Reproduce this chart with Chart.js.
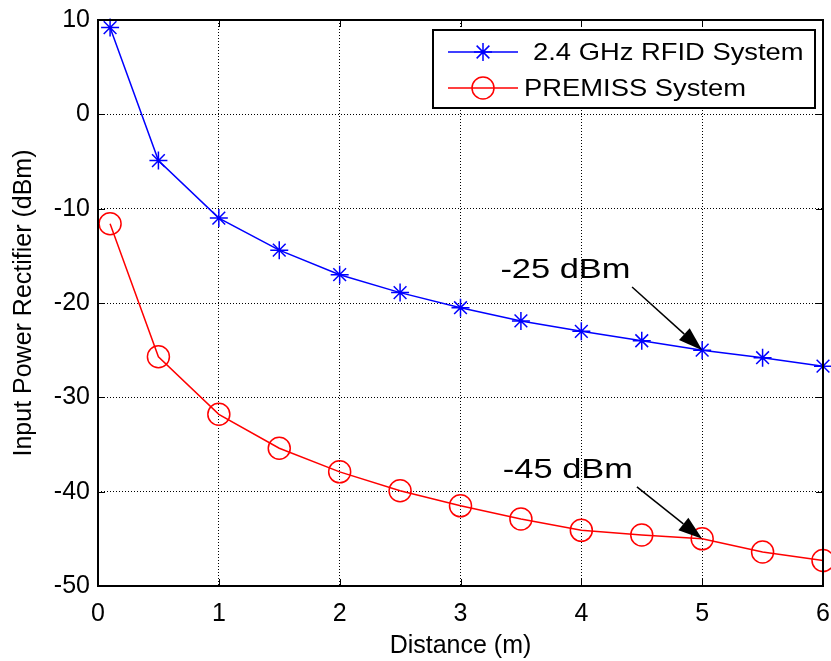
<!DOCTYPE html>
<html>
<head>
<meta charset="utf-8">
<script src="https://cdn.jsdelivr.net/npm/chart.js@4.4.1/dist/chart.umd.min.js"></script>
<style>
  html, body { margin: 0; padding: 0; background: #fff; }
  #wrap { width: 831px; height: 661px; }
</style>
</head>
<body>
<div id="wrap"><canvas id="powerChart" width="831" height="661"></canvas></div>
<script>
// distance in metres
const distance = [0.1, 0.5, 1, 1.5, 2, 2.5, 3, 3.5, 4, 4.5, 5, 5.5, 6];
// input power at the rectifier (dBm)
const rfidPower = [9.2, -4.9, -11.0, -14.4, -17.0, -18.9, -20.5, -21.9, -23.0, -24.0, -25.0, -25.8, -26.7];
const premissPower = [-11.6, -25.7, -31.8, -35.4, -37.9, -39.9, -41.5, -42.9, -44.1, -44.6, -45.0, -46.4, -47.3];
const seriesNames = ["2.4 GHz RFID System", "PREMISS System"];
const xTicks = [0, 1, 2, 3, 4, 5, 6];
const yTicks = [10, 0, -10, -20, -30, -40, -50];

const FONT = "'Liberation Sans', Arial, sans-serif";

function toPoints(ys) {
  return distance.map((x, i) => ({ x: x, y: ys[i] }));
}

// text drawn a little wider than the font, like the exported figure
function wideText(ctx, text, x, y, sx) {
  ctx.save();
  ctx.translate(x, y);
  ctx.scale(sx, 1);
  ctx.fillText(text, 0, 0);
  ctx.restore();
}

// box round the plot, inward ticks, legend and the two arrow notes
const decorations = {
  id: "decorations",
  afterDatasetsDraw(chart) {
    const { ctx, chartArea: a, scales } = chart;
    const xs = scales.x, ys = scales.y;
    ctx.save();

    // inward tick marks
    ctx.strokeStyle = "#000";
    ctx.lineWidth = 1;
    ctx.setLineDash([]);
    xTicks.forEach(v => {
      const px = Math.round(xs.getPixelForValue(v)) + 0.5;
      ctx.beginPath();
      ctx.moveTo(px, a.bottom); ctx.lineTo(px, a.bottom - 7);
      ctx.moveTo(px, a.top); ctx.lineTo(px, a.top + 7);
      ctx.stroke();
    });
    yTicks.forEach(v => {
      const py = Math.round(ys.getPixelForValue(v)) + 0.5;
      ctx.beginPath();
      ctx.moveTo(a.left, py); ctx.lineTo(a.left + 7, py);
      ctx.moveTo(a.right, py); ctx.lineTo(a.right - 7, py);
      ctx.stroke();
    });

    // axes box
    ctx.lineWidth = 2;
    ctx.strokeRect(a.left, a.top, a.right - a.left, a.bottom - a.top);

    // annotations with arrows
    const notes = [
      { text: "-25 dBm", tx: 3.33, ty: -17.4, fx: 4.42, fy: -18.3, x: 5, y: rfidPower[10] },
      { text: "-45 dBm", tx: 3.35, ty: -38.6, fx: 4.46, fy: -39.5, x: 5, y: premissPower[10] }
    ];
    ctx.fillStyle = "#000";
    ctx.font = "28px " + FONT;
    ctx.textBaseline = "alphabetic";
    ctx.textAlign = "left";
    notes.forEach(n => {
      wideText(ctx, n.text, xs.getPixelForValue(n.tx), ys.getPixelForValue(n.ty), 1.23);
      const x0 = xs.getPixelForValue(n.fx), y0 = ys.getPixelForValue(n.fy);
      const x1 = xs.getPixelForValue(n.x), y1 = ys.getPixelForValue(n.y);
      const ang = Math.atan2(y1 - y0, x1 - x0);
      const len = 24, half = 8;
      const bx = x1 - len * Math.cos(ang), by = y1 - len * Math.sin(ang);
      ctx.lineWidth = 1.5;
      ctx.beginPath();
      ctx.moveTo(x0, y0); ctx.lineTo(bx, by);
      ctx.stroke();
      ctx.beginPath();
      ctx.moveTo(x1, y1);
      ctx.lineTo(bx + half * Math.sin(ang), by - half * Math.cos(ang));
      ctx.lineTo(bx - half * Math.sin(ang), by + half * Math.cos(ang));
      ctx.closePath();
      ctx.fill();
    });

    // legend box
    const lx = 433, ly = 30, lw = 382, lh = 78;
    ctx.fillStyle = "#fff";
    ctx.fillRect(lx, ly, lw, lh);
    ctx.lineWidth = 2;
    ctx.strokeStyle = "#000";
    ctx.strokeRect(lx, ly, lw, lh);
    const rows = [52, 88];
    chart.data.datasets.forEach((ds, i) => {
      const cy = rows[i];
      ctx.strokeStyle = ds.borderColor;
      ctx.lineWidth = 1.5;
      ctx.beginPath();
      ctx.moveTo(448, cy); ctx.lineTo(518, cy);
      ctx.stroke();
      if (ds.pointStyle === "star") {
        const r = ds.pointRadius;
        ctx.beginPath();
        ctx.moveTo(483, cy - r); ctx.lineTo(483, cy + r);
        ctx.moveTo(483 - r, cy); ctx.lineTo(483 + r, cy);
        const d = r * Math.SQRT1_2;
        ctx.moveTo(483 - d, cy - d); ctx.lineTo(483 + d, cy + d);
        ctx.moveTo(483 - d, cy + d); ctx.lineTo(483 + d, cy - d);
        ctx.stroke();
      } else {
        ctx.beginPath();
        ctx.arc(483, cy, ds.pointRadius, 0, Math.PI * 2);
        ctx.stroke();
      }
      ctx.fillStyle = "#000";
      ctx.font = "24px " + FONT;
      ctx.textBaseline = "middle";
      wideText(ctx, ds.label, i === 0 ? 533 : 524, cy + 1, 1.14);
    });
    ctx.restore();
  }
};

const ctx = document.getElementById("powerChart").getContext("2d");

const powerChart = new Chart(ctx, {
  type: "line",
  data: {
    datasets: [
      {
        label: seriesNames[0],
        data: toPoints(rfidPower),
        borderColor: "#0000ff",
        backgroundColor: "#0000ff",
        borderWidth: 1.5,
        pointStyle: "star",
        pointRadius: 9,
        pointBorderWidth: 1.5,
        tension: 0
      },
      {
        label: seriesNames[1],
        data: toPoints(premissPower),
        borderColor: "#ff0000",
        backgroundColor: "rgba(0,0,0,0)",
        borderWidth: 1.5,
        pointStyle: "circle",
        pointRadius: 11,
        pointBorderWidth: 1.5,
        tension: 0
      }
    ]
  },
  options: {
    responsive: false,
    animation: false,
    clip: false,
    layout: { autoPadding: false, padding: { top: 20, right: 8, left: 0, bottom: 0 } },
    plugins: {
      legend: { display: false },
      tooltip: { enabled: false }
    },
    scales: {
      x: {
        type: "linear",
        min: 0,
        max: 6,
        afterBuildTicks: s => { s.ticks = xTicks.map(v => ({ value: v })); },
        afterFit: s => { s.height = 75; s.paddingLeft = 0; s.paddingRight = 0; },
        grid: { color: "#000", lineWidth: 1, drawTicks: false },
        // dotted grid lines
        border: { display: false, dash: [1, 2] },
        ticks: { color: "#000", font: { size: 25, family: FONT }, padding: 13, maxRotation: 0 },
        title: { display: true, text: "Distance (m)", color: "#000", font: { size: 25, family: FONT }, padding: { top: 0, bottom: 0 } }
      },
      y: {
        type: "linear",
        min: -50,
        max: 10,
        afterBuildTicks: s => { s.ticks = yTicks.map(v => ({ value: v })); },
        afterFit: s => { s.width = 98; s.paddingTop = 0; s.paddingBottom = 0; },
        grid: { color: "#000", lineWidth: 1, drawTicks: false },
        border: { display: false, dash: [1, 2] },
        ticks: { color: "#000", font: { size: 25, family: FONT }, padding: 8 },
        title: { display: true, text: "Input Power Rectifier (dBm)", color: "#000", font: { size: 25, family: FONT }, padding: { top: 9, bottom: 0 } }
      }
    }
  },
  plugins: [decorations]
});
</script>
</body>
</html>
